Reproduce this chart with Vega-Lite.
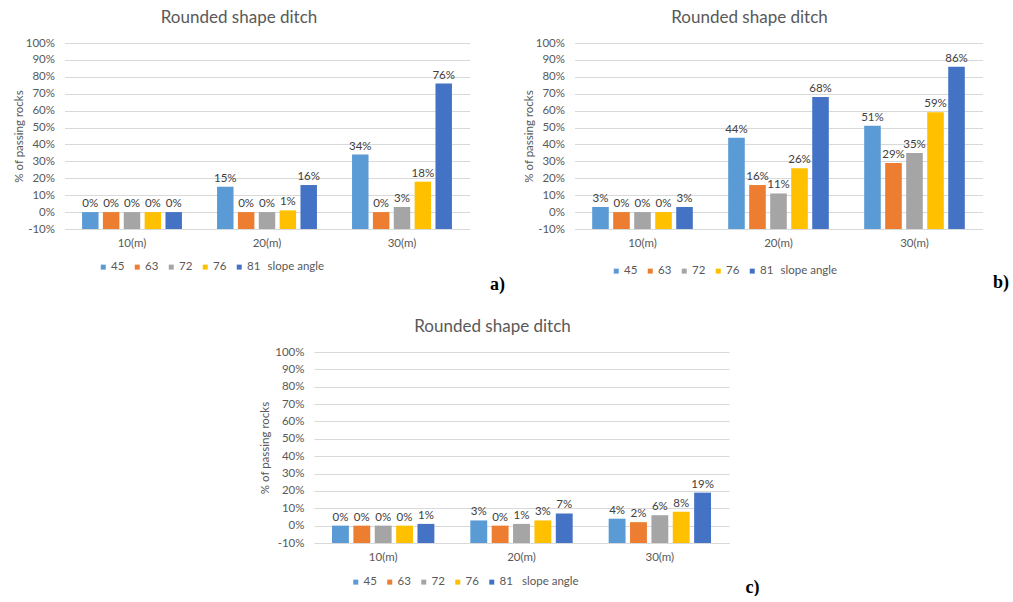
{
  "$schema": "https://vega.github.io/schema/vega-lite/v6.json",
  "padding": {"left": 13, "top": 9, "right": 0, "bottom": 0},
  "background": "white",
  "config": {
    "font": "Lato",
    "view": {"stroke": null},
    "title": {"fontSize": 17, "fontWeight": "normal", "color": "#595959", "font": "Lato"},
    "axis": {"labelFont": "Lato", "titleFont": "Lato"},
    "legend": {"labelFont": "Lato", "titleFont": "Lato"}
  },
  "data": {
    "values": [
      {"panel": "a", "distance": "10(m)", "angle": "45", "value": 0},
      {"panel": "a", "distance": "10(m)", "angle": "63", "value": 0},
      {"panel": "a", "distance": "10(m)", "angle": "72", "value": 0},
      {"panel": "a", "distance": "10(m)", "angle": "76", "value": 0},
      {"panel": "a", "distance": "10(m)", "angle": "81", "value": 0},
      {"panel": "a", "distance": "20(m)", "angle": "45", "value": 0.15},
      {"panel": "a", "distance": "20(m)", "angle": "63", "value": 0},
      {"panel": "a", "distance": "20(m)", "angle": "72", "value": 0},
      {"panel": "a", "distance": "20(m)", "angle": "76", "value": 0.01},
      {"panel": "a", "distance": "20(m)", "angle": "81", "value": 0.16},
      {"panel": "a", "distance": "30(m)", "angle": "45", "value": 0.34},
      {"panel": "a", "distance": "30(m)", "angle": "63", "value": 0},
      {"panel": "a", "distance": "30(m)", "angle": "72", "value": 0.03},
      {"panel": "a", "distance": "30(m)", "angle": "76", "value": 0.18},
      {"panel": "a", "distance": "30(m)", "angle": "81", "value": 0.76},
      {"panel": "b", "distance": "10(m)", "angle": "45", "value": 0.03},
      {"panel": "b", "distance": "10(m)", "angle": "63", "value": 0},
      {"panel": "b", "distance": "10(m)", "angle": "72", "value": 0},
      {"panel": "b", "distance": "10(m)", "angle": "76", "value": 0},
      {"panel": "b", "distance": "10(m)", "angle": "81", "value": 0.03},
      {"panel": "b", "distance": "20(m)", "angle": "45", "value": 0.44},
      {"panel": "b", "distance": "20(m)", "angle": "63", "value": 0.16},
      {"panel": "b", "distance": "20(m)", "angle": "72", "value": 0.11},
      {"panel": "b", "distance": "20(m)", "angle": "76", "value": 0.26},
      {"panel": "b", "distance": "20(m)", "angle": "81", "value": 0.68},
      {"panel": "b", "distance": "30(m)", "angle": "45", "value": 0.51},
      {"panel": "b", "distance": "30(m)", "angle": "63", "value": 0.29},
      {"panel": "b", "distance": "30(m)", "angle": "72", "value": 0.35},
      {"panel": "b", "distance": "30(m)", "angle": "76", "value": 0.59},
      {"panel": "b", "distance": "30(m)", "angle": "81", "value": 0.86},
      {"panel": "c", "distance": "10(m)", "angle": "45", "value": 0},
      {"panel": "c", "distance": "10(m)", "angle": "63", "value": 0},
      {"panel": "c", "distance": "10(m)", "angle": "72", "value": 0},
      {"panel": "c", "distance": "10(m)", "angle": "76", "value": 0},
      {"panel": "c", "distance": "10(m)", "angle": "81", "value": 0.01},
      {"panel": "c", "distance": "20(m)", "angle": "45", "value": 0.03},
      {"panel": "c", "distance": "20(m)", "angle": "63", "value": 0},
      {"panel": "c", "distance": "20(m)", "angle": "72", "value": 0.01},
      {"panel": "c", "distance": "20(m)", "angle": "76", "value": 0.03},
      {"panel": "c", "distance": "20(m)", "angle": "81", "value": 0.07},
      {"panel": "c", "distance": "30(m)", "angle": "45", "value": 0.04},
      {"panel": "c", "distance": "30(m)", "angle": "63", "value": 0.02},
      {"panel": "c", "distance": "30(m)", "angle": "72", "value": 0.06},
      {"panel": "c", "distance": "30(m)", "angle": "76", "value": 0.08},
      {"panel": "c", "distance": "30(m)", "angle": "81", "value": 0.19}
    ]
  },
  "resolve": {"scale": {"color": "independent", "x": "independent", "y": "independent", "xOffset": "independent"}, "legend": {"color": "independent"}, "axis": {"x": "independent", "y": "independent"}},
  "spacing": 25,
  "center": true,
  "vconcat": [
    {
      "hconcat": [
        {
          "width": 405, "height": 186,
          "title": {"text": "Rounded shape ditch", "dx": -28, "offset": 10},
          "transform": [{"filter": "datum.panel == 'a'"}],
          "encoding": {
            "x": {"field": "distance", "type": "nominal", "scale": {"paddingInner": 0.26, "paddingOuter": 0.13},
              "axis": {"title": "a)", "titleX": 425, "titleY": 60, "titleAlign": "left", "titleBaseline": "alphabetic", "titleFont": "Liberation Serif", "titleFontSize": 18, "titleFontWeight": "bold", "titleColor": "#000000", "labelAngle": 0, "labelFontSize": 11.5, "labelColor": "#595959", "labelPadding": 8, "ticks": false, "domainColor": "#d9d9d9"}},
            "xOffset": {"field": "angle", "type": "nominal", "scale": {"paddingInner": 0.21, "paddingOuter": 0}},
            "y": {"field": "value", "type": "quantitative", "scale": {"domain": [-0.1, 1], "nice": false},
              "axis": {"title": "% of passing rocks", "titleFontSize": 11.5, "titleFontWeight": "normal", "titleColor": "#595959", "titlePadding": 1, "values": [-0.1, 0, 0.1, 0.2, 0.3, 0.4, 0.5, 0.6, 0.7, 0.8, 0.9, 1], "labelExpr": "(datum.value < 0 ? '-' : '') + format(abs(datum.value), '.0%')", "labelFontSize": 11.5, "labelColor": "#595959", "labelPadding": 10, "ticks": false, "domain": false, "gridColor": "#d9d9d9"}}
          },
          "layer": [
            {"mark": {"type": "bar"},
             "encoding": {"y2": {"datum": -0.1},
               "color": {"field": "angle", "type": "nominal", "scale": {"domain": ["45", "63", "72", "76", "81"], "range": ["#5B9BD5", "#ED7D31", "#A5A5A5", "#FFC000", "#4472C4"]},
                 "legend": {"orient": "none", "legendX": 33, "legendY": 218, "direction": "horizontal", "title": "slope angle", "titleOrient": "right", "titleFontSize": 11.5, "titleFontWeight": "normal", "titleColor": "#595959", "titlePadding": 7, "titleBaseline": "middle", "symbolType": "square", "symbolSize": 25, "symbolStrokeWidth": 0, "labelFontSize": 11.5, "labelColor": "#595959", "labelOffset": 2, "columnPadding": 7, "padding": 0}}}},
            {"mark": {"type": "text", "baseline": "bottom", "dy": -3, "fontSize": 11.5, "color": "#404040"},
             "encoding": {"text": {"field": "value", "type": "quantitative", "format": ".0%"}}}
          ]
        },
        {
          "width": 408, "height": 186,
          "title": {"text": "Rounded shape ditch", "dx": -29, "offset": 10},
          "transform": [{"filter": "datum.panel == 'b'"}],
          "encoding": {
            "x": {"field": "distance", "type": "nominal", "scale": {"paddingInner": 0.26, "paddingOuter": 0.13},
              "axis": {"title": "b)", "titleX": 418, "titleY": 58, "titleAlign": "left", "titleBaseline": "alphabetic", "titleFont": "Liberation Serif", "titleFontSize": 18, "titleFontWeight": "bold", "titleColor": "#000000", "labelAngle": 0, "labelFontSize": 11.5, "labelColor": "#595959", "labelPadding": 8, "ticks": false, "domainColor": "#d9d9d9"}},
            "xOffset": {"field": "angle", "type": "nominal", "scale": {"paddingInner": 0.21, "paddingOuter": 0}},
            "y": {"field": "value", "type": "quantitative", "scale": {"domain": [-0.1, 1], "nice": false},
              "axis": {"title": "% of passing rocks", "titleFontSize": 11.5, "titleFontWeight": "normal", "titleColor": "#595959", "titlePadding": 1, "values": [-0.1, 0, 0.1, 0.2, 0.3, 0.4, 0.5, 0.6, 0.7, 0.8, 0.9, 1], "labelExpr": "(datum.value < 0 ? '-' : '') + format(abs(datum.value), '.0%')", "labelFontSize": 11.5, "labelColor": "#595959", "labelPadding": 10, "ticks": false, "domain": false, "gridColor": "#d9d9d9"}}
          },
          "layer": [
            {"mark": {"type": "bar"},
             "encoding": {"y2": {"datum": -0.1},
               "color": {"field": "angle", "type": "nominal", "scale": {"domain": ["45", "63", "72", "76", "81"], "range": ["#5B9BD5", "#ED7D31", "#A5A5A5", "#FFC000", "#4472C4"]},
                 "legend": {"orient": "none", "legendX": 36, "legendY": 222, "direction": "horizontal", "title": "slope angle", "titleOrient": "right", "titleFontSize": 11.5, "titleFontWeight": "normal", "titleColor": "#595959", "titlePadding": 7, "titleBaseline": "middle", "symbolType": "square", "symbolSize": 25, "symbolStrokeWidth": 0, "labelFontSize": 11.5, "labelColor": "#595959", "labelOffset": 2, "columnPadding": 7, "padding": 0}}}},
            {"mark": {"type": "text", "baseline": "bottom", "dy": -3, "fontSize": 11.5, "color": "#404040"},
             "encoding": {"text": {"field": "value", "type": "quantitative", "format": ".0%"}}}
          ]
        }
      ],
      "spacing": 18,
      "resolve": {"scale": {"color": "independent", "x": "independent", "y": "independent", "xOffset": "independent"}, "legend": {"color": "independent"}, "axis": {"x": "independent", "y": "independent"}}
    },
    {
      "width": 415, "height": 191,
      "title": {"text": "Rounded shape ditch", "dx": -29, "offset": 10},
      "transform": [{"filter": "datum.panel == 'c'"}],
      "encoding": {
        "x": {"field": "distance", "type": "nominal", "scale": {"paddingInner": 0.26, "paddingOuter": 0.13},
          "axis": {"title": "c)", "titleX": 431, "titleY": 49, "titleAlign": "left", "titleBaseline": "alphabetic", "titleFont": "Liberation Serif", "titleFontSize": 18, "titleFontWeight": "bold", "titleColor": "#000000", "labelAngle": 0, "labelFontSize": 11.5, "labelColor": "#595959", "labelPadding": 8, "ticks": false, "domainColor": "#d9d9d9"}},
        "xOffset": {"field": "angle", "type": "nominal", "scale": {"paddingInner": 0.21, "paddingOuter": 0}},
        "y": {"field": "value", "type": "quantitative", "scale": {"domain": [-0.1, 1], "nice": false},
          "axis": {"title": "% of passing rocks", "titleFontSize": 11.5, "titleFontWeight": "normal", "titleColor": "#595959", "titleX": -49, "titleY": 95.5, "titleBaseline": "middle", "titleAngle": -90, "values": [-0.1, 0, 0.1, 0.2, 0.3, 0.4, 0.5, 0.6, 0.7, 0.8, 0.9, 1], "labelExpr": "'          ' + (datum.value < 0 ? '-' : '') + format(abs(datum.value), '.0%')", "labelFontSize": 11.5, "labelColor": "#595959", "labelPadding": 10, "ticks": false, "domain": false, "gridColor": "#d9d9d9"}}
      },
      "layer": [
        {"mark": {"type": "bar"},
         "encoding": {"y2": {"datum": -0.1},
           "color": {"field": "angle", "type": "nominal", "scale": {"domain": ["45", "63", "72", "76", "81"], "range": ["#5B9BD5", "#ED7D31", "#A5A5A5", "#FFC000", "#4472C4"]},
             "legend": {"orient": "none", "legendX": 36, "legendY": 224, "direction": "horizontal", "title": "slope angle", "titleOrient": "right", "titleFontSize": 11.5, "titleFontWeight": "normal", "titleColor": "#595959", "titlePadding": 9, "titleBaseline": "middle", "symbolType": "square", "symbolSize": 25, "symbolStrokeWidth": 0, "labelFontSize": 11.5, "labelColor": "#595959", "labelOffset": 2, "columnPadding": 7, "padding": 0}}}},
        {"mark": {"type": "text", "baseline": "bottom", "dy": -3, "fontSize": 11.5, "color": "#404040"},
         "encoding": {"text": {"field": "value", "type": "quantitative", "format": ".0%"}}}
      ]
    }
  ]
}
